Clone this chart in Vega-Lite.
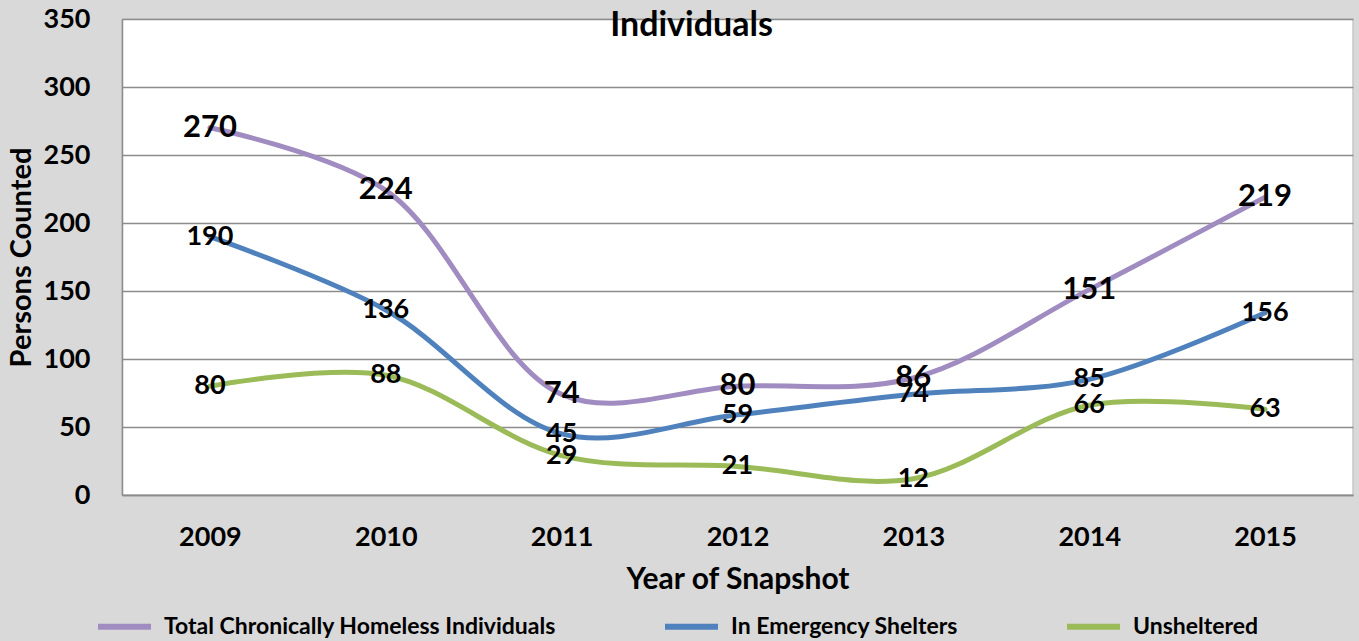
{
  "$schema": "https://vega.github.io/schema/vega-lite/v6.json",
  "width": 1231,
  "height": 476,
  "autosize": {"type": "none"},
  "padding": {"left": 122, "top": 19, "right": 6, "bottom": 146},
  "background": "#d9d9d9",
  "config": {
    "font": "Lato",
    "view": {"fill": "white", "stroke": "#c8c8c8", "strokeWidth": 1.5},
    "axis": {"labelFont": "Lato", "labelFontWeight": "bold", "labelColor": "black", "titleFont": "Lato", "titleFontWeight": "bold", "titleColor": "black"}
  },
  "title": {
    "text": "Individuals",
    "font": "Lato",
    "fontSize": 34,
    "fontWeight": "bold",
    "color": "black",
    "anchor": "middle",
    "frame": "group",
    "baseline": "middle",
    "dx": -46,
    "dy": 59
  },
  "data": {
    "values": [
      {"year": "2009", "series": "Total Chronically Homeless Individuals", "value": 270, "label": "270"},
      {"year": "2010", "series": "Total Chronically Homeless Individuals", "value": 224, "label": "224"},
      {"year": "2011", "series": "Total Chronically Homeless Individuals", "value": 74, "label": "74"},
      {"year": "2012", "series": "Total Chronically Homeless Individuals", "value": 80, "label": "80"},
      {"year": "2013", "series": "Total Chronically Homeless Individuals", "value": 86, "label": "86"},
      {"year": "2014", "series": "Total Chronically Homeless Individuals", "value": 151, "label": "151"},
      {"year": "2015", "series": "Total Chronically Homeless Individuals", "value": 219, "label": "219"},
      {"year": "2009", "series": "In Emergency Shelters", "value": 190, "label": "190"},
      {"year": "2010", "series": "In Emergency Shelters", "value": 136, "label": "136"},
      {"year": "2011", "series": "In Emergency Shelters", "value": 45, "label": "45"},
      {"year": "2012", "series": "In Emergency Shelters", "value": 59, "label": "59"},
      {"year": "2013", "series": "In Emergency Shelters", "value": 74, "label": "74"},
      {"year": "2014", "series": "In Emergency Shelters", "value": 85, "label": "85"},
      {"year": "2015", "series": "In Emergency Shelters", "value": 134, "label": "156"},
      {"year": "2009", "series": "Unsheltered", "value": 80, "label": "80"},
      {"year": "2010", "series": "Unsheltered", "value": 88, "label": "88"},
      {"year": "2011", "series": "Unsheltered", "value": 29, "label": "29"},
      {"year": "2012", "series": "Unsheltered", "value": 21, "label": "21"},
      {"year": "2013", "series": "Unsheltered", "value": 12, "label": "12"},
      {"year": "2014", "series": "Unsheltered", "value": 66, "label": "66"},
      {"year": "2015", "series": "Unsheltered", "value": 63, "label": "63"}
    ]
  },
  "encoding": {
    "x": {
      "field": "year",
      "type": "ordinal",
      "scale": {"type": "point", "padding": 0.5},
      "axis": {
        "title": "Year of Snapshot",
        "labelAngle": 0,
        "labelFontSize": 27,
        "labelBaseline": "middle",
        "labelPadding": 42,
        "ticks": false,
        "tickSize": 0,
        "domainColor": "#8c8c8c",
        "domainWidth": 1.5,
        "titleFontSize": 30,
        "titlePadding": 14,
        "grid": false
      }
    },
    "y": {
      "field": "value",
      "type": "quantitative",
      "scale": {"domain": [0, 350], "nice": false},
      "axis": {
        "title": "Persons Counted",
        "values": [0, 50, 100, 150, 200, 250, 300, 350],
        "labelFontSize": 27,
        "labelPadding": 32,
        "ticks": false,
        "tickSize": 0,
        "domainColor": "#8c8c8c",
        "domainWidth": 1.5,
        "gridColor": "#8c8c8c",
        "gridWidth": 1.5,
        "titleFontSize": 29,
        "titlePadding": 7
      }
    }
  },
  "layer": [
    {
      "mark": {"type": "line", "interpolate": "catmull-rom", "strokeWidth": 5, "strokeCap": "round"},
      "encoding": {
        "color": {
          "field": "series",
          "type": "nominal",
          "sort": ["Total Chronically Homeless Individuals", "In Emergency Shelters", "Unsheltered"],
          "scale": {
            "domain": ["Total Chronically Homeless Individuals", "In Emergency Shelters", "Unsheltered"],
            "range": ["#a08cc0", "#4f81bd", "#9bbb59"]
          },
          "legend": {
            "title": null,
            "orient": "none",
            "direction": "horizontal",
            "legendX": -27,
            "legendY": 578,
            "padding": 0,
            "symbolType": "stroke",
            "symbolSize": 2809,
            "symbolStrokeWidth": 6,
            "labelFont": "Lato",
            "labelFontWeight": "bold",
            "labelFontSize": 23,
            "labelColor": "black",
            "labelOffset": 10,
            "labelLimit": 600,
            "columnPadding": 97
          }
        }
      }
    },
    {
      "transform": [{"filter": "datum.series === 'Total Chronically Homeless Individuals'"}],
      "mark": {"type": "text", "font": "Lato", "fontWeight": "bold", "fontSize": 31, "color": "black", "baseline": "middle", "align": "center"},
      "encoding": {"text": {"field": "label"}}
    },
    {
      "transform": [{"filter": "datum.series !== 'Total Chronically Homeless Individuals'"}],
      "mark": {"type": "text", "font": "Lato", "fontWeight": "bold", "fontSize": 27, "color": "black", "baseline": "middle", "align": "center"},
      "encoding": {"text": {"field": "label"}}
    }
  ]
}
